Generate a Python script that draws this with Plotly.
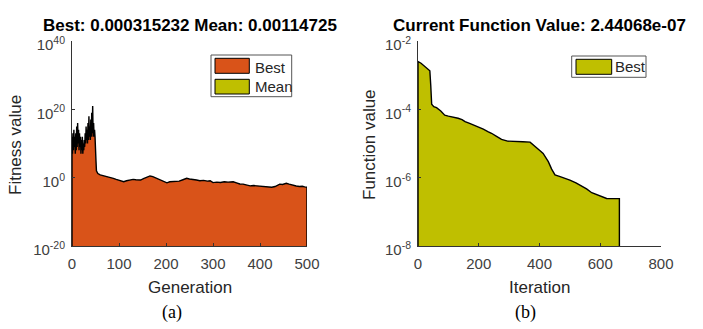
import plotly.graph_objects as go

# ---- data ----
# (a) GA: best fitness per generation, stored as log10 values
ga_generation = list(range(0, 56)) + [
    60, 66, 72, 78, 84, 88, 94, 100, 105, 110, 116, 122, 130, 136, 140, 146,
    152, 158, 166, 172, 180, 186, 192, 198, 202, 208, 214, 222, 228, 236, 244,
    250, 256, 265, 272, 280, 288, 294, 300, 308, 316, 324, 332, 343, 350, 357,
    364, 372, 379, 386, 394, 402, 410, 418, 425, 432, 438, 442, 448, 456, 462,
    468, 472, 477, 484, 490, 495, 500]
ga_best_log10 = [
    12, 7, 13, 8, 14, 9, 12, 7, 13, 8, 15, 9, 16, 10, 14, 8, 13, 9, 12, 7,
    11, 8, 12, 7, 10, 8, 11, 9, 13, 10, 15, 11, 14, 10, 16, 11, 18, 12, 15, 11,
    17, 12, 19, 13, 21, 12, 16, 12, 14, 12, 10, 5, 2, 1.5, 1.3, 1.2,
    0.8, 0.6, 0.4, 0.3, 0.0, -0.2, -0.5, -0.8, -1.0, -1.2, -0.9, -0.7, -0.5,
    -0.6, -0.7, -0.7, -0.3, 0.1, 0.5, 0.3, -0.2, -0.5, -0.9, -1.3, -1.5, -1.2,
    -1.1, -0.9, -1.0, -0.6, -0.2, -0.4, -0.6, -0.7, -0.9, -0.8, -1.0, -0.9,
    -1.45, -1.3, -1.4, -1.2, -1.3, -1.2, -1.5, -1.85, -1.9, -2.1, -2.4, -2.3,
    -2.4, -2.5, -2.4, -2.7, -2.8, -2.6, -2.2, -1.9, -2.0, -1.65, -1.9, -2.2,
    -2.4, -2.45, -2.6, -2.5, -2.7, -2.8]

# (b) optimiser: current function value per iteration, log10 values
opt_iteration = [
    0, 10, 20, 28, 35, 39, 42, 45, 52, 61, 75, 88, 100, 115, 132, 145, 155,
    170, 185, 198, 215, 230, 242, 260, 275, 295, 319, 345, 369, 380, 390, 400,
    412, 420, 429, 440, 451, 468, 485, 500, 520, 539, 555, 572, 585, 599, 610,
    621, 663]
opt_value_log10 = [
    -2.6, -2.65, -2.72, -2.8, -2.84, -2.87, -3.3, -3.85, -3.92, -3.95, -4.05,
    -4.17, -4.2, -4.22, -4.26, -4.3, -4.36, -4.41, -4.46, -4.51, -4.58, -4.65,
    -4.7, -4.8, -4.88, -4.93, -4.95, -4.95, -4.96, -5.05, -5.14, -5.2, -5.29,
    -5.4, -5.53, -5.75, -5.92, -5.97, -6.02, -6.07, -6.15, -6.24, -6.33, -6.44,
    -6.48, -6.54, -6.58, -6.61, -6.6125]

ga_ticks_x = [0, 100, 200, 300, 400, 500]
ga_ticks_y = [1e-20, 1.0, 1e20, 1e40]
ga_ticktext_y = ["10<sup>-20</sup>", "10<sup>0</sup>", "10<sup>20</sup>", "10<sup>40</sup>"]
opt_ticks_x = [0, 200, 400, 600, 800]
opt_ticks_y = [1e-8, 1e-6, 1e-4, 1e-2]
opt_ticktext_y = ["10<sup>-8</sup>", "10<sup>-6</sup>", "10<sup>-4</sup>", "10<sup>-2</sup>"]

ORANGE = "#d95319"
OLIVE = "#bfbf00"
W, H = 703, 329
SANS = "Liberation Sans, Arial, sans-serif"


def px(x, y):
    return x / W, 1 - y / H


ga_best = [10.0 ** v for v in ga_best_log10]
opt_value = [10.0 ** v for v in opt_value_log10]

fig = go.Figure()

# area plots closed down to the bottom of each axis
fig.add_trace(go.Scatter(
    x=[ga_generation[0]] + ga_generation + [ga_generation[-1]],
    y=[1e-20] + ga_best + [1e-20],
    mode="lines", fill="toself", fillcolor=ORANGE,
    line=dict(color="black", width=1.4), xaxis="x", yaxis="y",
    showlegend=False, hoverinfo="skip"))

fig.add_trace(go.Scatter(
    x=[opt_iteration[0]] + opt_iteration + [opt_iteration[-1]],
    y=[1e-8] + opt_value + [1e-8],
    mode="lines", fill="toself", fillcolor=OLIVE,
    line=dict(color="black", width=1.4), xaxis="x2", yaxis="y2",
    showlegend=False, hoverinfo="skip"))

axis_common = dict(
    showline=True, linecolor="#333333", linewidth=1, ticks="inside",
    ticklen=3, tickcolor="#333333", showgrid=False, zeroline=False,
    automargin=False,
    tickfont=dict(family=SANS, size=15, color="#404040"))

ydom = [1 - 246 / H, 1 - 41 / H]
fig.update_layout(
    width=W, height=H,
    margin=dict(l=0, r=0, t=0, b=0, pad=0, autoexpand=False),
    paper_bgcolor="white", plot_bgcolor="white", showlegend=False,
    xaxis=dict(domain=[72 / W, 307 / W], range=[0, 500], tickvals=ga_ticks_x,
               anchor="y", ticklabelstandoff=4, **axis_common),
    yaxis=dict(domain=ydom, type="log", range=[-20, 40], tickvals=ga_ticks_y,
               ticktext=ga_ticktext_y, anchor="x", ticklabelstandoff=3,
               ticklabelshift=4, **axis_common),
    xaxis2=dict(domain=[418 / W, 661 / W], range=[0, 800], tickvals=opt_ticks_x,
                anchor="y2", ticklabelstandoff=4, **axis_common),
    yaxis2=dict(domain=ydom, type="log", range=[-8, -2], tickvals=opt_ticks_y,
                ticktext=opt_ticktext_y, anchor="x2", ticklabelstandoff=3,
                ticklabelshift=4, **axis_common),
)

ann = []


def text(x, y, s, size, color="#262626", family=SANS, angle=0, xanchor="center"):
    xp, yp = px(x, y)
    ann.append(dict(x=xp, y=yp, xref="paper", yref="paper", text=s,
                    showarrow=False, textangle=angle, xanchor=xanchor,
                    yanchor="middle", font=dict(family=family, size=size, color=color)))


text(189.5, 26, "<b>Best: 0.000315232 Mean: 0.00114725</b>", 17, "black")
text(539.5, 26, "<b>Current Function Value: 2.44068e-07</b>", 17, "black")
text(189.5, 287, "Generation", 17)
text(539.5, 287, "Iteration", 17)
text(16, 145, "Fitness value", 17, angle=-90)
text(370, 145, "Function value", 17, angle=-90)
text(172, 312, "(a)", 18, "black", family="Liberation Serif, Times New Roman, serif")
text(525, 312, "(b)", 18, "black", family="Liberation Serif, Times New Roman, serif")

# legends drawn as MATLAB style boxes
shapes = []


def rect(x0, y0, x1, y1, fill, line):
    a, b = px(x0, y1)
    c, d = px(x1, y0)
    shapes.append(dict(type="rect", xref="paper", yref="paper", x0=a, y0=b,
                       x1=c, y1=d, fillcolor=fill, line=dict(color=line, width=1)))


rect(211, 55, 291.7, 96.7, "white", "#555555")
rect(215, 58.3, 249.3, 73.3, ORANGE, "black")
rect(215, 79.3, 249.3, 94, OLIVE, "black")
text(252.5, 67.5, "Best", 15, xanchor="left")
text(252.5, 87, "Mean", 15, xanchor="left")

rect(571.7, 56, 646, 77.3, "white", "#555555")
rect(576, 59.3, 611.7, 74.3, OLIVE, "black")
text(613, 66.8, "Best", 15, xanchor="left")

fig.update_layout(annotations=ann, shapes=shapes)

# the page body keeps its default 8px margin otherwise
fig.write_html("out.html", config={"displayModeBar": False},
               post_script="document.body.style.margin = '0px';")
